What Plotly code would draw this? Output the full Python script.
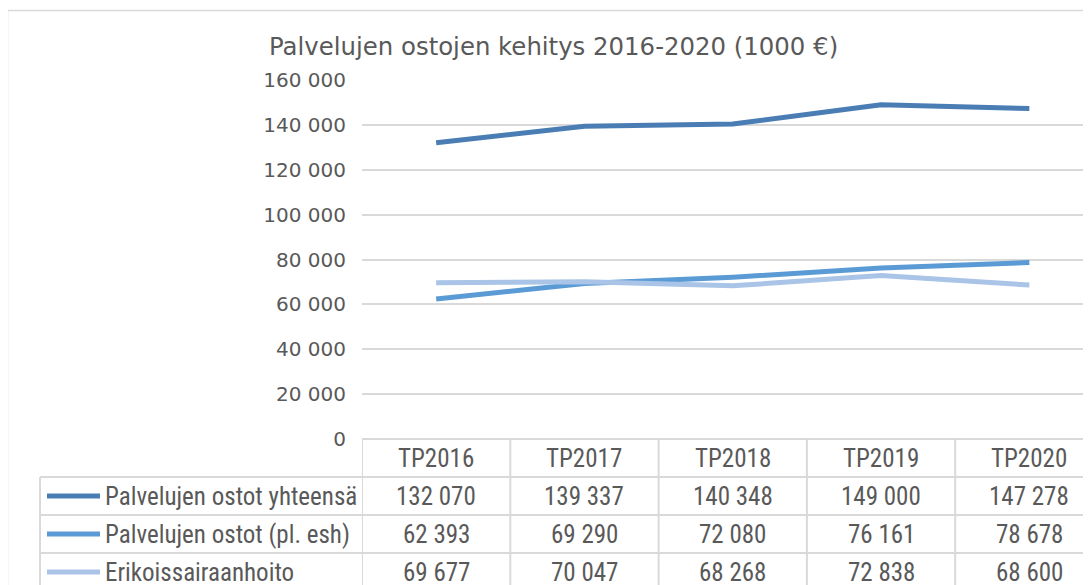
import plotly.graph_objects as go

categories = ["TP2016", "TP2017", "TP2018", "TP2019", "TP2020"]
series_names = ["Palvelujen ostot yhteensä", "Palvelujen ostot (pl. esh)", "Erikoissairaanhoito"]
total_values = [132070, 139337, 140348, 149000, 147278]
excl_esh_values = [62393, 69290, 72080, 76161, 78678]
esh_values = [69677, 70047, 68268, 72838, 68600]
y_tick_values = [0, 20000, 40000, 60000, 80000, 100000, 120000, 140000, 160000]

series_values = [total_values, excl_esh_values, esh_values]
colors = ["#4a7db4", "#5b9bd5", "#a9c4e6"]

# page body has an 8px margin; figure sized to fill the rest of the window
OFF = 8
W, H = 1091 - OFF, 585 - OFF


def px_x(p):
    return (p - OFF) / W


def px_y(p):
    return 1 - (p - OFF) / H


def fmt(v):
    return f"{v:,}".replace(",", " ")


fig = go.Figure()
for name, vals, col in zip(series_names, series_values, colors):
    fig.add_trace(go.Scatter(x=categories, y=vals, mode="lines", name=name,
                             line=dict(color=col, width=5), showlegend=False))

grid = "#d9d9d9"
txt = "#595959"
table_font = "Liberation Sans Narrow, Arial Narrow, Roboto Condensed, sans-serif"
main_font = "DejaVu Sans, Verdana, sans-serif"

shapes = []
# outer chart border
shapes.append(dict(type="rect", xref="paper", yref="paper", x0=px_x(7.5), x1=1.05,
                   y0=px_y(10.5), y1=-0.05, line=dict(color=grid, width=1.5)))
# table horizontal lines
row_lines = [439, 477, 515, 553, 591]
for i, yy in enumerate(row_lines):
    x0 = px_x(362) if i == 0 else px_x(40)
    shapes.append(dict(type="line", xref="paper", yref="paper", x0=x0, x1=1.05,
                       y0=px_y(yy), y1=px_y(yy), line=dict(color=grid, width=2)))
# table vertical lines at category boundaries
for i in range(len(categories) + 1):
    shapes.append(dict(type="line", xref="x", yref="paper", x0=i - 0.5, x1=i - 0.5,
                       y0=px_y(439), y1=-0.05, line=dict(color=grid, width=2)))
shapes.append(dict(type="line", xref="paper", yref="paper", x0=px_x(40), x1=px_x(40),
                   y0=px_y(477), y1=-0.05, line=dict(color=grid, width=2)))

annotations = []
row_centers = [496, 534, 572]
for c in categories:
    annotations.append(dict(x=c, xref="x", y=px_y(458), yref="paper", text=c,
                            xanchor="center", yanchor="middle", showarrow=False,
                            font=dict(family=table_font, size=25, color=txt)))
for r, (name, vals, col) in enumerate(zip(series_names, series_values, colors)):
    yc = px_y(row_centers[r])
    shapes.append(dict(type="line", xref="paper", yref="paper", x0=px_x(47), x1=px_x(100),
                       y0=yc, y1=yc, line=dict(color=col, width=5)))
    annotations.append(dict(x=px_x(103), xref="paper", y=yc, yref="paper", text=name,
                            xanchor="left", yanchor="middle", showarrow=False,
                            font=dict(family=table_font, size=25, color=txt)))
    for c, v in zip(categories, vals):
        annotations.append(dict(x=c, xref="x", y=yc, yref="paper", text=fmt(v),
                                xanchor="center", yanchor="middle", showarrow=False,
                                font=dict(family=table_font, size=25, color=txt)))

annotations.append(dict(x=px_x(553), xref="paper", y=px_y(47), yref="paper",
                        text="Palvelujen ostojen kehitys 2016-2020 (1000 €)", showarrow=False,
                        xanchor="center", yanchor="middle",
                        font=dict(family=main_font, size=24.4, color=txt)))

cat_width = 148.3
n_visible = (1091 - 362) / cat_width
fig.update_layout(
    width=W, height=H, autosize=False,
    margin=dict(l=0, r=0, t=0, b=0, pad=0),
    paper_bgcolor="white", plot_bgcolor="white",
    xaxis=dict(domain=[px_x(362), 1], range=[-0.5, -0.5 + n_visible], automargin=False,
               showticklabels=False, showgrid=False, zeroline=False, showline=False, ticks=""),
    yaxis=dict(domain=[px_y(439), px_y(80)], range=[0, 160000], tickvals=y_tick_values,
               ticktext=[fmt(v) for v in y_tick_values], automargin=False,
               showgrid=True, gridcolor=grid, gridwidth=1.5, zeroline=False, showline=False,
               ticks="", ticklabelstandoff=15,
               tickfont=dict(family=main_font, size=20, color=txt)),
    shapes=shapes, annotations=annotations,
)

fig.write_html("out.html")
